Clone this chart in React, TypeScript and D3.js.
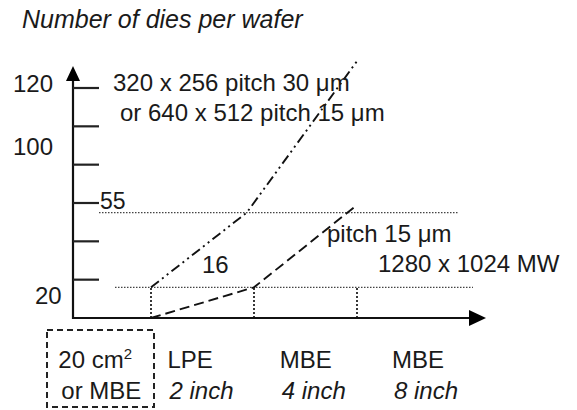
import React from 'react';
import * as d3 from 'd3';

const W = 577;
const H = 410;

// --- data ---
const yTicks = [20, 40, 60, 80, 100, 120];
const yLabels = ['120', '100', '20'];
const yLabelValues = [120, 100, 20];
const guideLevels = [16, 55];           // dotted horizontal guides
const waferSteps = [0, 1, 2];           // dotted verticals up to the 16 line
const dies320 = [
    { x: 0, y: 16 },
    { x: 0.93, y: 55 },
    { x: 2, y: 134 },
];
const dies1280 = [
    { x: 0, y: 0 },
    { x: 1, y: 16 },
    { x: 2, y: 59 },
];
const catTop = ['20 cm', 'LPE', 'MBE', 'MBE'];
const catBottom = ['or MBE', '2 inch', '4 inch', '8 inch'];
const catAt = [-0.9, 0.16, 1.25, 2.34];

const FONT = '"Liberation Sans", Arial, sans-serif';

export default function App() {
    const x = d3.scaleLinear().domain([0, 2]).range([151, 357]);
    const y = d3.scaleLinear().domain([0, 120]).range([318, 88]);

    const x0 = 73;          // y axis position
    const yBase = y(0);     // x axis position
    const line = d3.line<{ x: number; y: number }>()
        .x(d => x(d.x))
        .y(d => y(d.y));

    const txt = { fontFamily: FONT, fontSize: 24, fill: '#1a1a1a' } as const;

    return (
        <div style={{ position: 'absolute', left: 0, top: 0 }}>
            <svg width={W} height={H} style={{ background: '#fff', display: 'block' }}>
                <text x={22} y={28} {...txt} fontSize={25} fontStyle="italic">Number of dies per wafer</text>

                {/* guides */}
                <line x1={99} x2={458} y1={y(guideLevels[1])} y2={y(guideLevels[1])}
                    stroke="#444" strokeWidth={1.4} strokeDasharray="1.5 1.5" />
                <line x1={115} x2={473} y1={y(guideLevels[0])} y2={y(guideLevels[0])}
                    stroke="#444" strokeWidth={1.4} strokeDasharray="1.5 1.5" />
                {waferSteps.map(s => (
                    <line key={s} x1={x(s)} x2={x(s)} y1={yBase} y2={y(guideLevels[0])}
                        stroke="#222" strokeWidth={1.8} strokeDasharray="2 2" />
                ))}

                {/* series */}
                <path d={line(dies320) || ''} fill="none" stroke="#111" strokeWidth={1.9}
                    strokeDasharray="10 4 2 4 2 4" />
                <path d={line(dies1280) || ''} fill="none" stroke="#111" strokeWidth={1.9}
                    strokeDasharray="10 5" />

                {/* axes */}
                <line x1={x0} x2={x0} y1={yBase + 1} y2={80} stroke="#111" strokeWidth={2.2} />
                <polygon points={`${x0},66 ${x0 - 7},81 ${x0 + 7},81`} fill="#000" />
                <line x1={x0 - 1} x2={470} y1={yBase} y2={yBase} stroke="#111" strokeWidth={2.2} />
                <polygon points={`486,${yBase} 469,${yBase - 8} 469,${yBase + 8}`} fill="#000" />
                {yTicks.map(t => (
                    <line key={t} x1={x0} x2={99} y1={y(t)} y2={y(t)} stroke="#222" strokeWidth={2.2} />
                ))}

                {/* y labels (loosely placed, as in the original sketch) */}
                <text x={13} y={y(yLabelValues[0]) + 4} {...txt}>{yLabels[0]}</text>
                <text x={13} y={y(yLabelValues[1]) + 29} {...txt}>{yLabels[1]}</text>
                <text x={35} y={y(yLabelValues[2]) + 24} {...txt}>{yLabels[2]}</text>
                <text x={100} y={y(guideLevels[1]) - 4} {...txt} fontSize={23}>{String(guideLevels[1])}</text>
                <text x={202} y={273} {...txt}>{String(guideLevels[0])}</text>

                {/* series annotations */}
                <text x={113} y={91} {...txt}>320 x 256 pitch 30 μm</text>
                <text x={120} y={121} {...txt}>or 640 x 512 pitch 15 μm</text>
                <text x={327} y={242} {...txt}>pitch 15 μm</text>
                <text x={378} y={272} {...txt}>1280 x 1024 MW</text>

                {/* category labels */}
                <rect x={47} y={330} width={107} height={77} fill="none" stroke="#222"
                    strokeWidth={2} strokeDasharray="6 4" />
                {catTop.map((c, i) => (
                    <text key={'t' + i} x={x(catAt[i])} y={368} {...txt}>
                        {c}
                        {i === 0 && <tspan fontSize={15} dy={-9}>2</tspan>}
                    </text>
                ))}
                {catBottom.map((c, i) => (
                    <text key={'b' + i} x={x(catAt[i]) + (i === 0 ? 3 : 2)} y={399} {...txt}
                        fontStyle={i === 0 ? 'normal' : 'italic'}>{c}</text>
                ))}
            </svg>
        </div>
    );
}
